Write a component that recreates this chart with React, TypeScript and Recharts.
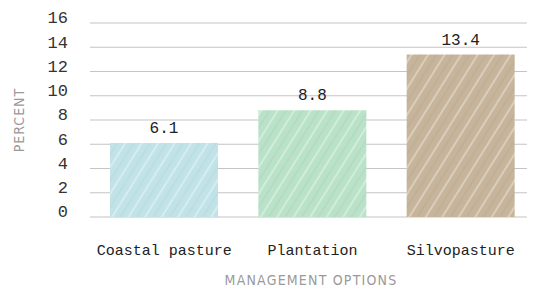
import { BarChart, Bar, XAxis, YAxis, CartesianGrid, Cell, LabelList } from 'recharts';

const categories = ['Coastal pasture', 'Plantation', 'Silvopasture'];
const percentValues = [6.1, 8.8, 13.4];
const yTicks = [0, 2, 4, 6, 8, 10, 12, 14, 16];
const barColors = ['#c1e3e8', '#bae2c9', '#c6b59a'];

const data = categories.map((name, i) => ({ name, value: percentValues[i] }));

const MONO = '"Liberation Mono", "DejaVu Sans Mono", monospace';

function YTick({ y, payload }: any) {
  return (
    <text x={60} y={y - 4} textAnchor="end" dominantBaseline="middle" fontFamily={MONO} fontSize={17} fill="#333">
      {payload.value}
    </text>
  );
}

function XTick({ x, y, payload }: any) {
  return (
    <text x={x} y={y + 26} textAnchor="middle" dominantBaseline="middle" fontFamily={MONO} fontSize={15} fill="#222">
      {payload.value}
    </text>
  );
}

export default function App() {
  return (
    <BarChart width={527} height={282} data={data} margin={{ top: 15, right: 0, bottom: 0, left: 0 }}>
      <defs>
        {barColors.map((c, i) => (
          <pattern key={i} id={`sketch-${i}`} patternUnits="userSpaceOnUse" width={14} height={14} patternTransform="rotate(32)">
            <rect width={14} height={14} fill={c} />
            <line x1={3} y1={0} x2={3} y2={14} stroke="#ffffff" strokeWidth={1.2} strokeOpacity={0.55} />
            <line x1={10} y1={0} x2={10} y2={14} stroke="#000000" strokeWidth={1} strokeOpacity={0.05} />
          </pattern>
        ))}
      </defs>
      <CartesianGrid vertical={false} stroke="#c4c4c4" strokeWidth={1.2} />
      <XAxis dataKey="name" axisLine={false} tickLine={false} height={73} tick={<XTick />} interval={0} />
      <YAxis
        domain={[0, 16]}
        ticks={yTicks}
        width={82}
        axisLine={false}
        tickLine={false}
        tick={<YTick />}
        label={{
          value: 'PERCENT',
          angle: -90,
          position: 'insideLeft',
          offset: 11,
          style: { fontFamily: '"DejaVu Sans Condensed", sans-serif', fontSize: 14, fill: '#9a9a9a', letterSpacing: 1, textAnchor: 'middle' },
        }}
      />
      <Bar dataKey="value" barSize={108} isAnimationActive={false}>
        {data.map((d, i) => (
          <Cell key={d.name} fill={`url(#sketch-${i})`} />
        ))}
        <LabelList dataKey="value" position="top" offset={10} fontFamily={MONO} fontSize={16} fill="#222" />
      </Bar>
      <text x={303} y={273} textAnchor="middle" dominantBaseline="middle" fontFamily='"DejaVu Sans Condensed", sans-serif' fontSize={14} fill="#9a9a9a" letterSpacing={1.2}>
        MANAGEMENT OPTIONS
      </text>
    </BarChart>
  );
}
